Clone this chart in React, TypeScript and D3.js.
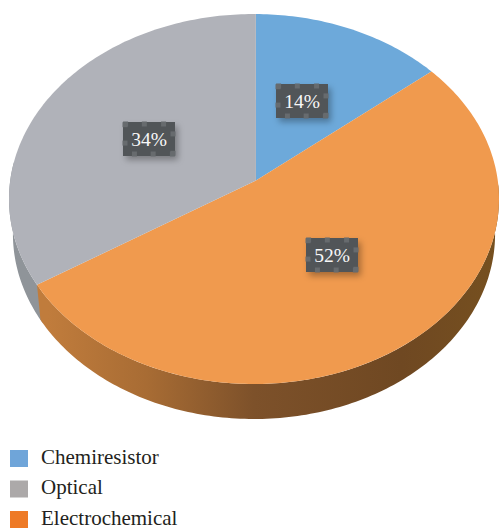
import React from "react";
import * as d3 from "d3";

const categories = ["Chemiresistor", "Optical", "Electrochemical"];
const legendColors = ["#6fa5d9", "#aca9a9", "#ee7a26"];
const sliceOrder = ["Chemiresistor", "Electrochemical", "Optical"];
const sliceValues = [14, 52, 34];
const sliceColors = ["#6da9da", "#f09a4e", "#b0b2b9"];
const wallStops = ["#c07c3c", "#a86c34", "#7d512a", "#6f4822", "#76501f"];
const wallOffsets = ["8%", "28%", "50%", "80%", "100%"];

const cx = 254;
const cy = 199;
const rx = 245;
const ry = 185;
// Hub position relative to the rim's ellipse, in units of its radii.
const hubU = 0.008;
const hubV = -0.1;
const depth = 35;
const lowerScale = 0.984;

// Perspective of the disc: a projective map of the unit disc onto itself
// that carries the centre to the hub and keeps the rim on the ellipse.
function project(theta: number): [number, number] {
  const u = Math.sin(theta);
  const v = -Math.cos(theta);
  const beta2 = hubU * hubU + hubV * hubV;
  const gamma = 1 / Math.sqrt(1 - beta2);
  const dot = hubU * u + hubV * v;
  const k = gamma / (1 + gamma);
  const w = 1 + dot;
  const pu = (u / gamma + hubU + k * dot * hubU) / w;
  const pv = (v / gamma + hubV + k * dot * hubV) / w;
  return [cx + rx * pu, cy + ry * pv];
}

const hub: [number, number] = [cx + rx * hubU, cy + ry * hubV];
const arcs = d3.pie<number>().sort(null)(sliceValues);
const lineGen = d3.line<[number, number]>();

function rimPoints(a0: number, a1: number): [number, number][] {
  const n = Math.max(2, Math.ceil((a1 - a0) * 60));
  return d3.range(n + 1).map((i) => project(a0 + ((a1 - a0) * i) / n));
}

function slicePath(a0: number, a1: number) {
  return lineGen([hub, ...rimPoints(a0, a1)]) + "Z";
}

function wallPath(a0: number, a1: number) {
  const upper = rimPoints(a0, a1);
  const lower = upper
    .map((p) => [cx + (p[0] - cx) * lowerScale, p[1] + depth] as [number, number])
    .reverse();
  return lineGen([...upper, ...lower]) + "Z";
}

const wallStart = Math.PI / 2 + 0.02;
const wallEnd = (Math.PI * 3) / 2 + 0.1;
const boundary = arcs[1].endAngle;

const labelAnchor: [number, number][] = [
  [302, 101],
  [332, 255],
  [149, 139],
];
const boxW = 52;
const boxH = 34;
const topDots = [0.05, 0.41, 0.78];
const bottomDots = [0.22, 0.58, 0.95];
const rightDots = [0.35, 0.92];
const leftDots = [0.08, 0.62];

function ValueLabel({ value, at }: { value: number; at: [number, number] }) {
  const x0 = at[0] - boxW / 2;
  const y0 = at[1] - boxH / 2;
  const dots: [number, number][] = [
    ...topDots.map((f) => [x0 + f * boxW, y0 + 2] as [number, number]),
    ...bottomDots.map((f) => [x0 + f * boxW, y0 + boxH - 2] as [number, number]),
    ...rightDots.map((f) => [x0 + boxW - 2, y0 + f * boxH] as [number, number]),
    ...leftDots.map((f) => [x0 + 2, y0 + f * boxH] as [number, number]),
  ];
  return (
    <g>
      <rect x={x0} y={y0} width={boxW} height={boxH} fill="#515559" filter="url(#boxShadow)" />
      {dots.map((d, i) => (
        <rect key={i} x={d[0] - 2.5} y={d[1] - 2.5} width={5} height={5} fill="#676b6e" />
      ))}
      <text
        x={at[0]}
        y={at[1] + 6.5}
        textAnchor="middle"
        fontFamily="'Liberation Serif', serif"
        fontSize={19.5}
        fill="#f8f8f8"
      >
        {value}%
      </text>
    </g>
  );
}

const legendY = d3.scalePoint<string>().domain(categories).range([458.5, 519.5]);

export default function App() {
  return (
    <svg
      width={500}
      height={528}
      viewBox="0 0 500 528"
      style={{ position: "absolute", left: 0, top: 0, display: "block", background: "#fff" }}
    >
      <defs>
        <linearGradient id="wallFill" gradientUnits="userSpaceOnUse" x1={cx - rx} x2={cx + rx} y1={0} y2={0}>
          {wallStops.map((c, i) => (
            <stop key={i} offset={wallOffsets[i]} stopColor={c} />
          ))}
        </linearGradient>
        <filter id="boxShadow" x="-30%" y="-30%" width="170%" height="170%">
          <feDropShadow dx={3} dy={4} stdDeviation={3} floodColor="#000" floodOpacity={0.3} />
        </filter>
      </defs>

      <path d={wallPath(boundary - 0.02, wallEnd)} fill="#8f9499" />
      <path d={wallPath(wallStart, boundary)} fill="url(#wallFill)" />

      {arcs.map((a, i) => (
        <path key={sliceOrder[i]} d={slicePath(a.startAngle, a.endAngle)} fill={sliceColors[i]} />
      ))}

      {arcs.map((a, i) => (
        <ValueLabel key={i} value={a.data} at={labelAnchor[i]} />
      ))}

      {categories.map((c, i) => {
        const y = legendY(c) as number;
        return (
          <g key={c}>
            <rect x={10} y={y - 8.5} width={18} height={17} fill={legendColors[i]} />
            <text
              x={41}
              y={y + 5}
              fontFamily="'Liberation Serif', serif"
              fontSize={21}
              fill="#231f20"
            >
              {c}
            </text>
          </g>
        );
      })}
    </svg>
  );
}
